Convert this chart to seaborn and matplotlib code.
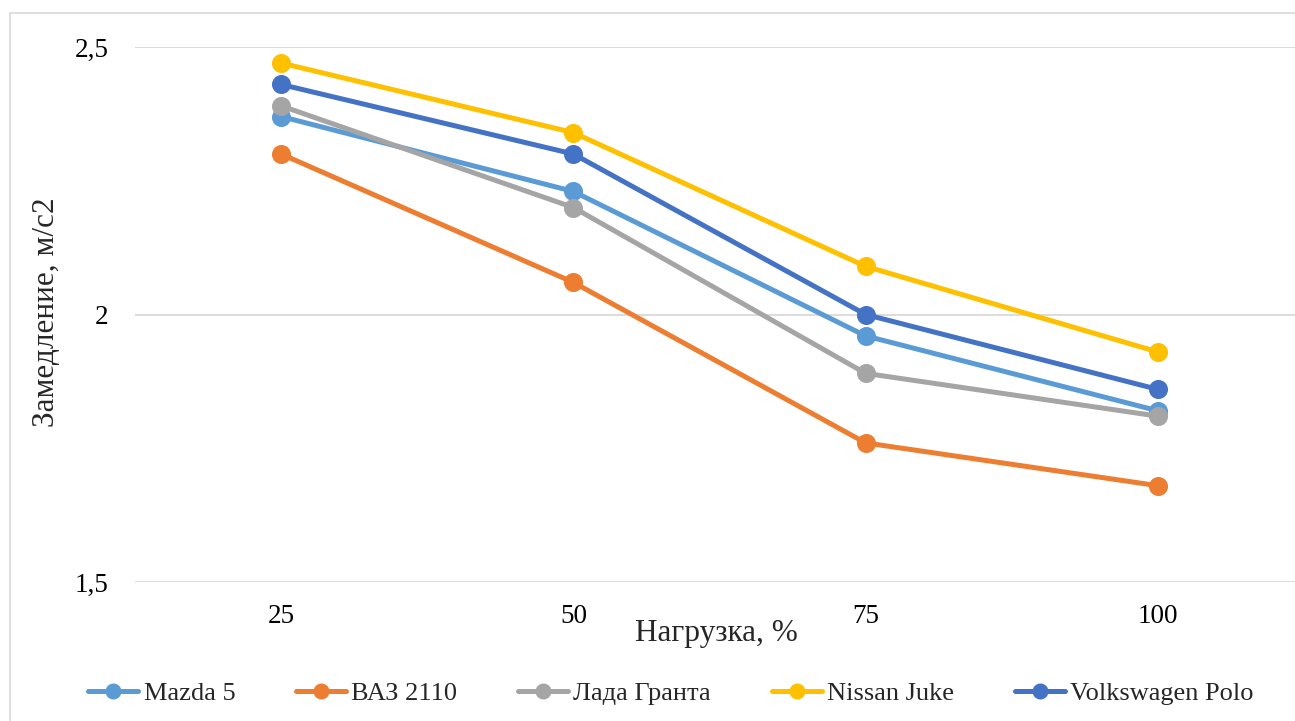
import matplotlib
matplotlib.use("Agg")
import matplotlib.pyplot as plt
from matplotlib.lines import Line2D
import seaborn as sns
import pandas as pd

loads = ["25", "50", "75", "100"]
cars = ["Mazda 5", "ВАЗ 2110", "Лада Гранта", "Nissan Juke", "Volkswagen Polo"]
mazda = [2.37, 2.23, 1.96, 1.82]
vaz = [2.30, 2.06, 1.76, 1.68]
lada = [2.39, 2.20, 1.89, 1.81]
nissan = [2.47, 2.34, 2.09, 1.93]
vw = [2.43, 2.30, 2.00, 1.86]
colors = ["#5B9BD5", "#ED7D31", "#A5A5A5", "#FFC000", "#4472C4"]
yticks = [1.5, 2.0, 2.5]
ytick_labels = ["1,5", "2", "2,5"]

series = [mazda, vaz, lada, nissan, vw]
rows = []
for car, vals in zip(cars, series):
    for l, v in zip(loads, vals):
        rows.append({"load": l, "val": v, "car": car})
df = pd.DataFrame(rows)

sns.set_style("white")
plt.rcParams["font.family"] = ["Liberation Serif", "DejaVu Serif"]

W, H = 1295, 721
fig = plt.figure(figsize=(W / 100, H / 100), dpi=100)
ax = fig.add_axes([135 / W, 139 / H, 1169 / W, 535 / H])

sns.pointplot(data=df, x="load", y="val", hue="car", order=loads, hue_order=cars,
              palette=colors, markers="o", linestyles="-", dodge=False,
              errorbar=None, markersize=11, linewidth=3.6, ax=ax)
ax.get_legend().remove()

ax.set_xlim(-0.5, 3.5)
ax.set_ylim(1.5, 2.5)
ax.set_yticks(yticks)
ax.set_yticklabels(ytick_labels)
ax.yaxis.grid(True, color="#D9D9D9", linewidth=1.3)
ax.xaxis.grid(False)
ax.set_axisbelow(True)
for s in ax.spines.values():
    s.set_visible(False)
ax.tick_params(axis="both", length=0, labelsize=19.5, colors="black")
ax.tick_params(axis="y", pad=19)
ax.tick_params(axis="x", pad=16)
ax.set_xlabel("")
ax.set_ylabel("")

fig.text(716 / W, 1 - 634 / H, "Нагрузка, %", ha="center", va="center", fontsize=22.5)
fig.text(47 / W, 1 - 312 / H, "Замедление, м/с2", ha="center", va="center",
         rotation=90, fontsize=22.5)

handles = [Line2D([0], [0], color=c, lw=3.6, marker="o", markersize=10.5) for c in colors]
fig.legend(handles, cars, loc="center", bbox_to_anchor=(671 / W, 1 - 693 / H),
           ncol=5, frameon=False, fontsize=19, handlelength=1.9, handletextpad=0.2,
           columnspacing=2.3)

# outer chart border (top and left visible)
fig.add_artist(Line2D([10 / W, 1.0], [1 - 13 / H, 1 - 13 / H], color="#D9D9D9", lw=1.2,
                      transform=fig.transFigure))
fig.add_artist(Line2D([10 / W, 10 / W], [0, 1 - 13 / H], color="#D9D9D9", lw=1.2,
                      transform=fig.transFigure))

fig.savefig("out.png", dpi=100)
